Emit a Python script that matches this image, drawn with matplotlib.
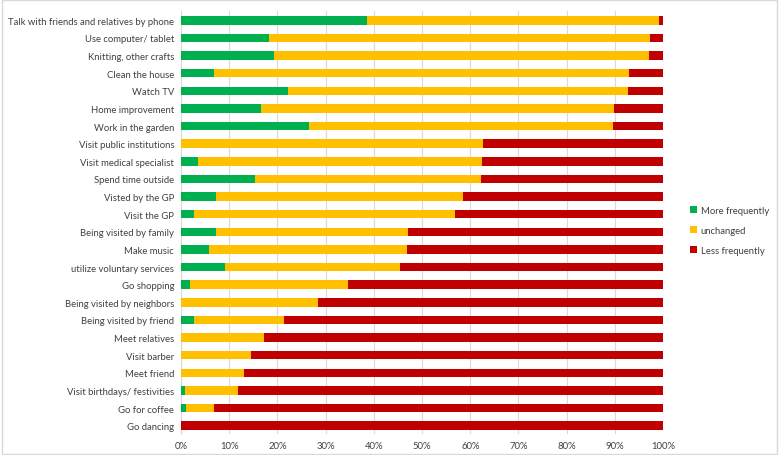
import matplotlib
matplotlib.use('Agg')
import matplotlib.pyplot as plt
from matplotlib.patches import Rectangle
import numpy as np

# categories, top to bottom
categories = [
    'Talk with friends and relatives by phone', 'Use computer/ tablet',
    'Knitting, other crafts', 'Clean the house', 'Watch TV',
    'Home improvement', 'Work in the garden', 'Visit public institutions',
    'Visit medical specialist', 'Spend time outside', 'Visted by the GP',
    'Visit the GP', 'Being visited by family', 'Make music',
    'utilize voluntary services', 'Go shopping', 'Being visited by neighbors',
    'Being visited by friend', 'Meet relatives', 'Visit barber',
    'Meet friend', 'Visit birthdays/ festivities', 'Go for coffee',
    'Go dancing',
]

# percentages
more_freq = [38.6, 18.3, 19.3, 6.8, 22.2, 16.6, 26.6, 0.0, 3.5, 15.4, 7.3,
             2.7, 7.3, 5.8, 9.1, 1.9, 0.0, 2.7, 0.0, 0.0, 0.0, 0.9, 1.1, 0.0]
unchanged = [60.6, 79.0, 77.8, 86.2, 70.5, 73.2, 63.0, 62.7, 58.9, 46.8, 51.2,
             54.1, 39.8, 41.1, 36.3, 32.7, 28.4, 18.7, 17.2, 14.5, 13.1, 10.9,
             5.8, 0.0]
less_freq = [100 - a - b for a, b in zip(more_freq, unchanged)]

series_names = ['More frequently', 'unchanged', 'Less frequently']
colors = ['#00B050', '#FFC000', '#C00000']

plt.rcParams['font.family'] = ['Lato', 'DejaVu Sans']
fs = 6.8

fig = plt.figure(figsize=(7.79, 4.56), dpi=100)
ax = fig.add_axes([0.2324, 0.045, 0.6188, 0.9276])

y = np.arange(len(categories))
left = np.zeros(len(categories))
for vals, name, col in zip([more_freq, unchanged, less_freq], series_names, colors):
    ax.barh(y, vals, left=left, height=0.48, color=col, label=name, zorder=3)
    left = left + np.array(vals)

ax.set_ylim(len(categories) - 0.5, -0.5)
ax.set_xlim(0, 100)
ax.set_yticks(y)
ax.set_yticklabels(categories, fontsize=fs, color='#404040')
ax.set_xticks(np.arange(0, 101, 10))
ax.set_xticklabels([f'{v}%' for v in range(0, 101, 10)], fontsize=fs, color='#404040')
ax.tick_params(length=0, pad=5)
ax.grid(axis='x', color='#D9D9D9', linewidth=0.8, zorder=0)
for s in ['top', 'right', 'bottom']:
    ax.spines[s].set_visible(False)
ax.spines['left'].set_color('#D9D9D9')

fig.legend(loc='upper left', bbox_to_anchor=(0.875, 0.565), frameon=False,
           fontsize=fs, handlelength=0.7, handleheight=0.7, handletextpad=0.4,
           labelspacing=1.15, labelcolor='#404040')

fig.patches.append(Rectangle((0.002, 0.003), 0.996, 0.994, transform=fig.transFigure,
                             fill=False, edgecolor='#D9D9D9', linewidth=1))

fig.savefig('out.png', dpi=100)
